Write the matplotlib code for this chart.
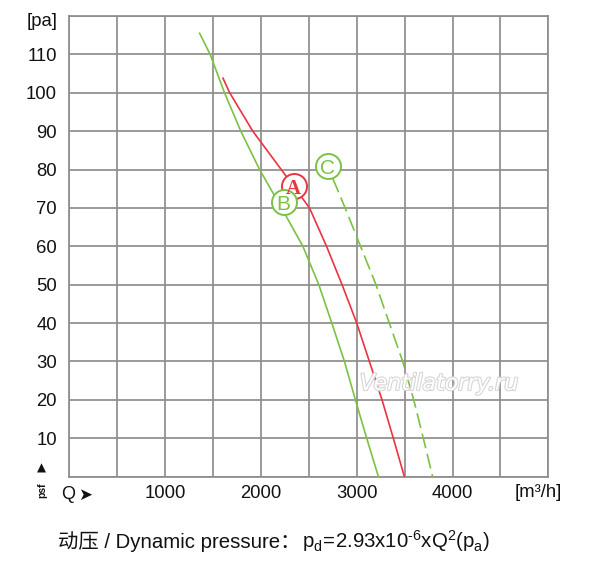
import matplotlib
matplotlib.use("Agg")
import matplotlib.pyplot as plt
import matplotlib.patheffects as pe

# ---- data ----
curve_a_q = [1604, 1674, 1915, 2212, 2339, 2507, 2685, 2847, 3000, 3132, 3264, 3382, 3497]
curve_a_p = [103.8, 100, 90, 80, 75.7, 70, 60, 50, 40, 30, 20, 10, 0]

curve_b_q = [1360, 1470, 1620, 1790, 1986, 2215, 2438, 2604, 2740, 2872, 2986, 3104, 3226]
curve_b_p = [115.5, 110, 100, 90, 80, 70, 60, 50, 40, 30, 20, 10, 0]

curve_c_q = [2750, 2879, 3040, 3201, 3340, 3480, 3595, 3695, 3792]
curve_c_p = [77.7, 70, 60, 50, 40, 30, 20, 10, 0]

label_names = ["A", "B", "C"]
label_q = [2344, 2236, 2700]
label_p = [75.7, 71.5, 80.8]

x_grid = [0, 500, 1000, 1500, 2000, 2500, 3000, 3500, 4000, 4500, 5000]
x_labels = ["", "", "1000", "", "2000", "", "3000", "", "4000", "", ""]
y_grid = [0, 10, 20, 30, 40, 50, 60, 70, 80, 90, 100, 110, 120]
y_labels = ["", "10", "20", "30", "40", "50", "60", "70", "80", "90", "100", "110", ""]

RED = "#ec3340"
GREEN = "#7cc242"
GRID = "#8e8e8e"
FONT = ["Liberation Sans", "DejaVu Sans"]
CJK = ["Liberation Sans", "Noto Sans CJK SC", "DejaVu Sans"]

plt.rcParams["font.family"] = FONT

W, H = 600, 570
fig = plt.figure(figsize=(W / 100, H / 100), dpi=100)
ax = fig.add_axes([69.3 / W, 93.5 / H, 479 / W, 460.5 / H])
ax.set_xlim(0, 5000)
ax.set_ylim(0, 120)

ax.set_xticks(x_grid)
ax.set_xticklabels(x_labels)
ax.set_yticks(y_grid)
ax.set_yticklabels(y_labels)
ax.tick_params(length=0, labelsize=13.3, colors="#111111")
ax.tick_params(axis="y", pad=9)
ax.tick_params(axis="x", pad=6)
ax.grid(True, color=GRID, linewidth=1.25, zorder=0)
for s in ax.spines.values():
    s.set_color(GRID)
    s.set_linewidth(1.25)

lw = 1.2
ax.plot(curve_b_q, curve_b_p, color=GREEN, lw=lw, zorder=3)
ax.plot(curve_a_q, curve_a_p, color=RED, lw=lw, zorder=3)
ax.plot(curve_c_q, curve_c_p, color=GREEN, lw=lw, zorder=3, dashes=(9, 3.5))

label_colors = [RED, GREEN, GREEN]
label_fonts = [["Liberation Serif", "DejaVu Serif"], FONT, FONT]
label_weights = ["bold", "normal", "normal"]
for name, q, p, c, f, w in zip(label_names, label_q, label_p, label_colors, label_fonts, label_weights):
    ax.plot([q], [p], marker="o", markersize=18, markerfacecolor="white",
            markeredgecolor=c, markeredgewidth=1.4, zorder=4, linestyle="none")
    ax.text(q, p, name, color=c, fontsize=15, family=f, weight=w,
            ha="center", va="center_baseline", zorder=5)

# watermark
ax.text(0.772, 0.201, "Ventilatorry.ru", transform=ax.transAxes, fontsize=16,
        style="italic", family=["DejaVu Sans"], color="white", ha="center", va="center",
        zorder=6, path_effects=[pe.withStroke(linewidth=1.6, foreground="#d6d6d6")])

# axis annotations
fig.text(57.5 / W, 1 - 21.7 / H, "[pa]", fontsize=13.3, ha="right", va="center", color="#111111")
fig.text(538 / W, 1 - 492.7 / H, "[m³/h]", fontsize=13.3, ha="center", va="center", color="#111111")
fig.text(41.7 / W, 1 - 468.3 / H, "▲", fontsize=8.5, ha="center", va="center",
         family=["DejaVu Sans"], color="#111111")
fig.text(42.7 / W, 1 - 490 / H, "psf", fontsize=7.5, weight="bold", rotation=90,
         ha="center", va="center", color="#111111")
fig.text(68.3 / W, 1 - 494.5 / H, "Q", fontsize=13, ha="center", va="center", color="#111111")
fig.text(85 / W, 1 - 494.5 / H, "➤", fontsize=12, ha="center", va="center",
         family=["DejaVu Sans"], color="#111111")

# caption
cap_y = 1 - 548 / H
t1 = fig.text(58 / W, cap_y, "动压 / Dynamic pressure：", fontsize=14.7, family=CJK,
              ha="left", va="baseline", color="#111111")
fig.canvas.draw()
bb = t1.get_window_extent()
plt.rcParams["mathtext.fontset"] = "custom"
plt.rcParams["mathtext.rm"] = "Liberation Sans"
plt.rcParams["mathtext.it"] = "Liberation Sans"
fig.text(bb.x1 / fig.bbox.width + 2 / W, cap_y,
         r"$\mathregular{p_d\!=\!2.93x10^{\text{-}6}xQ^2(p_a)}$", fontsize=14.7,
         ha="left", va="baseline", color="#111111")

fig.savefig("out.png", dpi=100)
